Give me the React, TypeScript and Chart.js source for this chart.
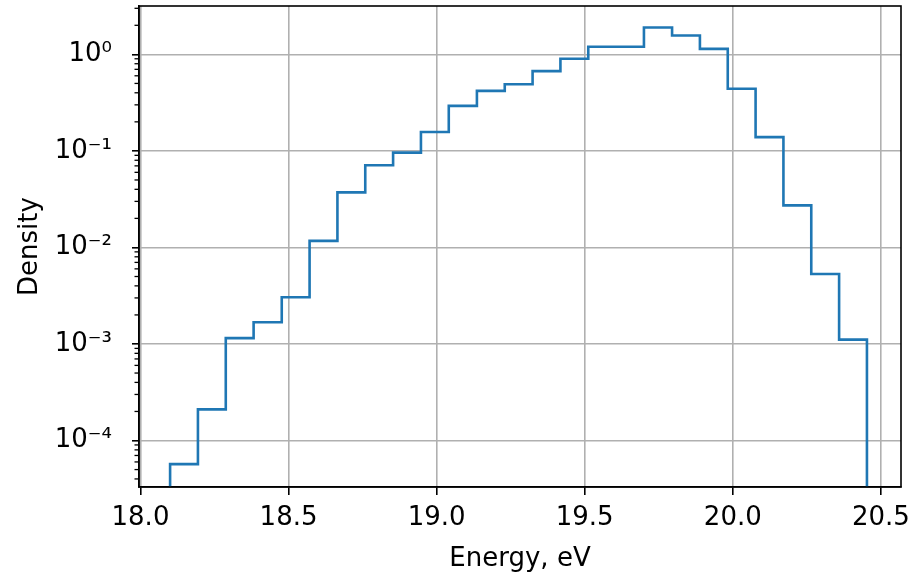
import { useEffect, useRef } from 'react';
import { Chart, registerables } from 'chart.js';

Chart.register(...registerables);

// Histogram bin edges (Energy, eV)
const binEdges = [
  18.100, 18.194, 18.288, 18.382, 18.477, 18.571, 18.665, 18.759, 18.853,
  18.947, 19.041, 19.136, 19.230, 19.324, 19.418, 19.512, 19.606, 19.700,
  19.795, 19.889, 19.983, 20.077, 20.171, 20.265, 20.359, 20.453,
];

// Density per bin
const densities = [
  5.7e-5, 2.1e-4, 1.15e-3, 1.68e-3, 3.05e-3, 0.0117, 0.0372, 0.0711, 0.096,
  0.157, 0.293, 0.419, 0.49, 0.671, 0.90, 1.2, 1.2, 1.9, 1.57, 1.14, 0.44,
  0.139, 0.0273, 5.3e-3, 1.11e-3,
];

const xTicks = [18.0, 18.5, 19.0, 19.5, 20.0, 20.5];
const yTicks = [1e-4, 1e-3, 1e-2, 1e-1, 1];
const yTickLabels = ['10⁻⁴', '10⁻³', '10⁻²', '10⁻¹', '10⁰'];
const minorMultipliers = [2, 3, 4, 5, 6, 7, 8, 9];
const minorDecades = [1e-5, 1e-4, 1e-3, 1e-2, 1e-1, 1];

const X_MIN = 17.995;
const X_MAX = 20.568;
const Y_MIN = 3.3e-5;
const Y_MAX = 3.17;
const FLOOR = 1e-9;

const FONT = 'DejaVu Sans';

export default function App() {
  const ref = useRef<HTMLCanvasElement | null>(null);

  useEffect(() => {
    if (!ref.current) return;

    const points: { x: number; y: number }[] = [];
    points.push({ x: binEdges[0], y: FLOOR });
    densities.forEach((d, i) => points.push({ x: binEdges[i], y: d }));
    points.push({ x: binEdges[binEdges.length - 1], y: densities[densities.length - 1] });
    points.push({ x: binEdges[binEdges.length - 1], y: FLOOR });

    const framePlugin = {
      id: 'frameAndMinor',
      afterDraw(chart: any) {
        const { ctx, chartArea } = chart;
        const yScale = chart.scales.y;
        ctx.save();
        // minor ticks on y axis
        ctx.strokeStyle = '#000';
        ctx.lineWidth = 1.3;
        minorDecades.forEach((dec) => {
          minorMultipliers.forEach((m) => {
            const v = m * dec;
            if (v < Y_MIN || v > Y_MAX) return;
            const py = yScale.getPixelForValue(v);
            ctx.beginPath();
            ctx.moveTo(chartArea.left - 4.5, py);
            ctx.lineTo(chartArea.left, py);
            ctx.stroke();
          });
        });
        // frame
        ctx.lineWidth = 1.6;
        ctx.strokeRect(
          chartArea.left,
          chartArea.top,
          chartArea.right - chartArea.left,
          chartArea.bottom - chartArea.top
        );
        ctx.restore();
      },
    };

    const chart = new Chart(ref.current, {
      type: 'line',
      data: {
        datasets: [
          {
            data: points,
            stepped: 'before',
            borderColor: '#1f77b4',
            borderWidth: 2.6,
            pointRadius: 0,
            fill: false,
          },
        ],
      },
      options: {
        animation: false,
        responsive: false,
        events: [],
        layout: { padding: { left: 0, top: 6, right: 17, bottom: 0 } },
        plugins: {
          legend: { display: false },
          tooltip: { enabled: false },
        },
        scales: {
          x: {
            type: 'linear',
            min: X_MIN,
            max: X_MAX,
            afterBuildTicks: (scale: any) => {
              scale.ticks = xTicks.map((v) => ({ value: v }));
            },
            afterFit: (scale: any) => {
              scale.height = 91;
              scale.paddingLeft = 0;
              scale.paddingRight = 0;
            },
            ticks: {
              callback: (v: any) => Number(v).toFixed(1),
              color: '#000',
              font: { family: FONT, size: 26 },
              padding: 8,
              maxRotation: 0,
              autoSkip: false,
            },
            grid: {
              color: '#b0b0b0',
              lineWidth: 1.6,
              tickColor: '#000',
              tickLength: 8,
              tickWidth: 1.6,
            },
            border: { display: true, color: '#000', width: 1.6 },
            title: {
              display: true,
              text: 'Energy, eV',
              color: '#000',
              font: { family: FONT, size: 26 },
              padding: { top: 0, bottom: 3 },
            },
          },
          y: {
            type: 'logarithmic',
            min: Y_MIN,
            max: Y_MAX,
            afterBuildTicks: (scale: any) => {
              scale.ticks = yTicks.map((v) => ({ value: v }));
            },
            afterFit: (scale: any) => {
              scale.width = 139;
              scale.paddingTop = 0;
              scale.paddingBottom = 0;
            },
            ticks: {
              callback: (v: any) => {
                const idx = yTicks.findIndex((t) => Math.abs(Math.log10(t) - Math.log10(Number(v))) < 1e-6);
                return idx >= 0 ? yTickLabels[idx] : '';
              },
              color: '#000',
              font: { family: FONT, size: 26 },
              padding: 20,
              autoSkip: false,
            },
            grid: {
              color: '#b0b0b0',
              lineWidth: 1.6,
              tickColor: '#000',
              tickLength: 7,
              tickWidth: 1.6,
            },
            border: { display: true, color: '#000', width: 1.6 },
            title: {
              display: true,
              text: 'Density',
              color: '#000',
              font: { family: FONT, size: 26 },
              padding: { top: 15, bottom: 0 },
            },
          },
        },
      },
      plugins: [framePlugin],
    } as any);

    return () => chart.destroy();
  }, []);

  return (
    <div style={{ position: 'fixed', left: 0, top: 0, width: 918, height: 578, background: '#fff' }}>
      <canvas ref={ref} width={918} height={578} style={{ display: 'block' }} />
    </div>
  );
}
